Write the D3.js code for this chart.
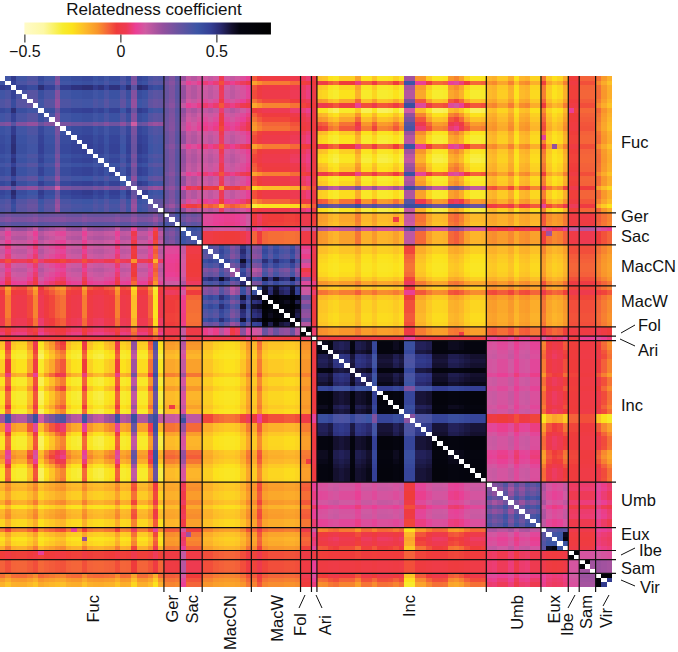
<!DOCTYPE html>
<html>
<head>
<meta charset="utf-8">
<script src="https://d3js.org/d3.v7.min.js"></script>
<style>
  html, body { margin: 0; padding: 0; background: white; }
  text { font-family: "Liberation Sans", Arial, sans-serif; fill: #111; }
</style>
</head>
<body>
<div id="chart"></div>
<script>
// values are estimated by eye: a level per group pair, per-species offsets read
// off the visible stripes, and the single cells that stand out. Not the source matrix.
const groupNames = ["Fuc","Ger","Sac","MacCN","MacW","Fol","Ari","Inc","Umb","Eux","Ibe","Sam","Vir"]
const groupSizes = [30,3,4,9,9,2,1,31,10,5,2,3,3]
const groupFamily = [0,1,1,2,2,2,3,4,5,6,7,8,9]

// mean relatedness of each pair of groups
const groupLevels = [
  [ .37, .30, .16, .12,-.01, .03, .00,-.20,-.17,-.18,-.02,-.06,-.13],
  [ .30, .35, .30, .10,-.01, .02,-.02,-.15,-.15,-.10, .00, .00,-.08],
  [ .16, .30, .40, .00,-.07, .00, .00,-.15,-.12,-.08, .00, .02,-.05],
  [ .12, .10, .00, .42, .38, .12, .03,-.20,-.17,-.15,-.04,-.04,-.10],
  [-.01,-.01,-.07, .38, .60, .22, .00,-.19,-.12,-.12,-.03,-.03,-.08],
  [ .03, .02, .00, .12, .22, .60, .05,-.12,-.06,-.04, .00, .00, .00],
  [ .00,-.02, .00, .03, .00, .05, .60, .00, .08, .08, .00, .08, .08],
  [-.20,-.15,-.15,-.20,-.19,-.12, .00, .60, .12,-.02,-.02, .00,-.06],
  [-.17,-.15,-.12,-.17,-.12,-.06, .08, .12, .30, .13, .04, .05, .07],
  [-.18,-.10,-.08,-.15,-.12,-.04, .08,-.02, .13, .38, .00, .00, .06],
  [-.02, .00, .00,-.04,-.03, .00, .00,-.02, .04, .00, .65, .12, .12],
  [-.06, .00, .02,-.04,-.03, .00, .08, .00, .05, .00, .12, .20, .20],
  [-.13,-.08,-.05,-.10,-.08, .00, .08,-.06, .07, .06, .12, .20, .30]
]

// how strongly a species' cross offset shows up against each other group
const crossGain = [
  [0,-.1,-.3,-.35,-.45,-.3,-.1,1,.3,.3,.1,.1,-.15],
  [.5,0,0,.5,.5,.5,.5,1,.5,.5,.5,.5,.5],
  [.5,0,0,.5,.5,.5,.5,1,.5,.5,.5,.5,.5],
  [.5,.5,.5,0,0,0,.5,1,.8,.8,.5,.5,.5],
  [.5,.5,.5,0,0,0,.5,1,.8,.8,.5,.5,.5],
  [.5,.5,.5,0,0,0,.5,1,.5,.5,.5,.5,.5],
  [.5,.5,.5,.5,.5,.5,0,1,.5,.5,.5,.5,.5],
  [1,.7,.7,.4,.4,.3,.2,0,-.3,-.4,-.1,-.1,-.45],
  [1,.5,.5,.5,.5,.5,.5,.5,0,.5,.5,.5,.5],
  [1,.5,.5,.5,.5,.5,.5,-.7,.5,0,.2,.2,.2],
  [1,.5,.5,.5,.5,.5,.5,.5,.5,.2,0,.2,.2],
  [1,.5,.5,.5,.5,.5,.5,.5,.5,.2,.2,0,.2],
  [1,.5,.5,.5,.5,.5,.5,1,.5,.2,.2,.2,0]
]

// stripes of each species across other groups, read from Inc and Fuc rows
const crossOffset = [
  -.02,.18,-.03,-.05,-.05,.05,.20,-.09,.00,.05,.12,.15,-.01,-.05,-.06,.18,-.02,-.06,-.07,-.02,.00,.19,-.05,-.03,.40,-.04,-.04,.12,.55,-.07,
  .00,.00,-.01,
  .30,.01,.01,.01,
  .00,.00,-.03,-.04,-.05,-.05,-.04,.00,.07,
  .00,.10,.00,-.02,-.02,-.02,-.03,-.03,-.02,
  .00,.00,
  .00,
  .03,.02,-.03,-.05,.00,.00,.00,.08,-.04,-.04,.02,-.05,-.05,-.04,.00,-.05,.42,.42,.10,.10,.01,-.05,-.05,-.04,.10,.12,.08,.00,-.05,-.05,-.04,
  .00,.01,-.03,-.03,.02,-.07,.00,.01,-.05,-.05,
  .10,-.02,-.06,-.04,.03,
  .00,.00,
  .00,.00,.00,
  .05,.00,-.04
]

// stripes inside a species' own family of groups
const selfOffset = [
  .02,.00,.09,.00,.00,-.03,-.03,.05,.00,.00,-.12,.02,.02,.04,.04,.05,.05,.02,.04,.00,.04,.04,-.02,.05,-.12,.06,.04,-.02,-.04,-.03,
  .00,-.03,.03,
  .02,-.02,.00,-.02,
  -.05,-.02,-.05,.05,-.02,-.12,-.08,.12,-.02,
  -.10,-.08,.08,.00,.08,.02,.00,.08,-.05,
  .00,.00,
  .00,
  .00,.00,.02,-.05,-.06,-.05,.02,-.05,-.04,-.02,-.16,.03,.03,.03,.00,.02,-.18,-.18,-.06,-.06,-.05,.03,.03,.03,.00,.00,.01,.02,.03,.03,.03,
  .00,-.05,-.02,.05,-.06,.04,-.03,.05,.02,.06,
  -.05,.00,.00,.02,.00,
  .00,.00,
  .00,.00,.00,
  .00,.00,.00
]

// Ger to Ari against the Fuc rows (species 30 to 57)
const fucRowOffset = [
  .00,-.04,.03,
  .05,-.02,.00,-.03,
  .00,.02,.00,-.10,.00,.02,.00,-.02,-.05,
  -.05,-.02,.00,.00,.00,.00,.00,.02,.02,
  .00,.02,
  .00
]

// single cells that stand out: [row, column, value]
const singleCells = [
  [55,56,.70],[104,105,.70],[106,107,.70],[109,110,.70],[109,111,.70],[110,111,.48],
  [100,103,.60],[101,103,.65],[15,101,.22],[7,104,.08],[13,99,.08],[34,100,.20],
  [72,31,.00],[84,56,.00],[74,33,.32]
]

const colorValues = [-.5,-.4,-.3,-.25,-.18,-.12,-.06,-.02,.03,.08,.13,.22,.3,.4,.47,.52,.58,.62,.78]
const colorRange = ["#fffbc8","#fdf8a6","#f7ec2e","#fce21c","#fdb82a","#f9962b","#f4603a","#ef3b3b","#ee3a52",
                    "#ea3f96","#cf5ba2","#94509e","#6a53a0","#3c55a5","#343f95","#2a2a70","#14102e","#050510","#000000"]
const colorTicks = [-0.5, 0, 0.5]
const legendDomain = [-0.5, 0.784]
const legendTitle = "Relatedness coefficient"

// group of each species + first species of each group
const speciesGroup = []
const groupStart = []
groupSizes.forEach(function(n, g) {
  groupStart.push(speciesGroup.length)
  for (let k = 0; k < n; k++) speciesGroup.push(g)
})
const species = d3.range(speciesGroup.length)

function relatedness(i, j) {
  const gi = speciesGroup[i], gj = speciesGroup[j]
  const base = groupLevels[gi][gj]
  if (groupFamily[gi] == groupFamily[gj]) {
    return base + selfOffset[i] + selfOffset[j]
  }
  let oi = crossOffset[i] * crossGain[gi][gj]
  let oj = crossOffset[j] * crossGain[gj][gi]
  if (gj == 0 && i >= 30 && i < 58) oi = fucRowOffset[i - 30]
  if (gi == 0 && j >= 30 && j < 58) oj = fucRowOffset[j - 30]
  return Math.min(base + oi + oj, .42)
}

const single = new Map()
singleCells.forEach(function(c) {
  single.set(c[0] + "," + c[1], c[2])
  single.set(c[1] + "," + c[0], c[2])
})

const cells = []
species.forEach(function(i) {
  species.forEach(function(j) {
    if (i == j) return // the diagonal stays white
    const key = i + "," + j
    cells.push({ i: i, j: j, v: single.has(key) ? single.get(key) : relatedness(i, j) })
  })
})

const svg = d3.select("#chart").append("svg")
  .attr("width", 678)
  .attr("height", 652)
  .style("display", "block")

const color = d3.scaleLinear().domain(colorValues).range(colorRange).clamp(true)

const xScale = d3.scaleBand().domain(species).range([0, 612])
const yScale = d3.scaleBand().domain(species).range([76, 587])

svg.append("g").selectAll("rect")
  .data(cells)
  .join("rect")
  .attr("x", d => xScale(d.j))
  .attr("y", d => yScale(d.i))
  .attr("width", xScale.bandwidth())
  .attr("height", yScale.bandwidth())
  .attr("fill", d => color(d.v))
  .attr("shape-rendering", "crispEdges")

// group separators
const lines = svg.append("g").attr("stroke", "#111").attr("stroke-width", 1.2)
groupStart.slice(1).forEach(function(s) {
  lines.append("line").attr("x1", xScale(s)).attr("x2", xScale(s)).attr("y1", 76).attr("y2", 592)
  lines.append("line").attr("x1", 0).attr("x2", 616).attr("y1", yScale(s)).attr("y2", yScale(s))
})

// right hand labels
const rightLabels = {
  Fuc: [621, 148], Ger: [621, 222], Sac: [621, 242], MacCN: [621, 272], MacW: [621, 307],
  Fol: [638, 331], Ari: [638, 356], Inc: [621, 411], Umb: [621, 506], Eux: [621, 540],
  Ibe: [639, 556], Sam: [621, 574], Vir: [640, 593]
}
const rightDashes = [[621, 333, 635, 325], [620, 339, 635, 346], [621, 555, 635, 548], [621, 580, 635, 586]]

groupNames.forEach(function(name) {
  svg.append("text")
    .attr("x", rightLabels[name][0])
    .attr("y", rightLabels[name][1])
    .attr("font-size", "16.5px")
    .text(name)
})

// bottom labels, x is the baseline, y the top end of the rotated text
const bottomLabels = {
  Fuc: [99, 595], Ger: [178, 595], Sac: [198, 595], MacCN: [236, 595], MacW: [283, 595],
  Fol: [306, 613], Ari: [331, 615], Inc: [415, 595], Umb: [523, 595], Eux: [560, 595],
  Ibe: [573, 613], Sam: [592, 595], Vir: [612, 608]
}
const bottomDashes = [[299, 608, 305, 595], [322, 608, 316, 595], [568, 608, 575, 595], [603, 606, 609, 595]]

groupNames.forEach(function(name) {
  svg.append("text")
    .attr("transform", "translate(" + bottomLabels[name][0] + "," + bottomLabels[name][1] + ") rotate(-90)")
    .style("text-anchor", "end")
    .attr("font-size", "16.5px")
    .text(name)
})

svg.append("g").attr("stroke", "#111").attr("stroke-width", 1)
  .selectAll("line")
  .data(rightDashes.concat(bottomDashes))
  .join("line")
  .attr("x1", d => d[0]).attr("y1", d => d[1])
  .attr("x2", d => d[2]).attr("y2", d => d[3])

// colour bar
const legendX = d3.scaleLinear().domain([-0.5, 0.5]).range([24.4, 216.4])
const defs = svg.append("defs")
const grad = defs.append("linearGradient").attr("id", "legendGrad")
grad.selectAll("stop")
  .data(colorValues)
  .join("stop")
  .attr("offset", d => (d - legendDomain[0]) / (legendDomain[1] - legendDomain[0]))
  .attr("stop-color", d => color(d))

svg.append("rect")
  .attr("x", legendX(legendDomain[0]))
  .attr("y", 22.5)
  .attr("width", legendX(legendDomain[1]) - legendX(legendDomain[0]))
  .attr("height", 12)
  .attr("fill", "url(#legendGrad)")

const legendAxis = d3.axisBottom(legendX)
  .tickValues(colorTicks)
  .tickSize(8)
  .tickPadding(3)
  .tickFormat(d => d3.format(".1~f")(d).replace("-", "\u2212"))

const axisG = svg.append("g")
  .attr("transform", "translate(0,34.5)")
  .call(legendAxis)
axisG.select(".domain").remove()
axisG.selectAll("line").attr("stroke", "#111")
axisG.selectAll("text").attr("font-size", "16px").attr("font-family", null).attr("fill", "#111")

svg.append("text")
  .attr("x", 154)
  .attr("y", 15)
  .style("text-anchor", "middle")
  .attr("font-size", "17px")
  .text(legendTitle)
</script>
</body>
</html>
